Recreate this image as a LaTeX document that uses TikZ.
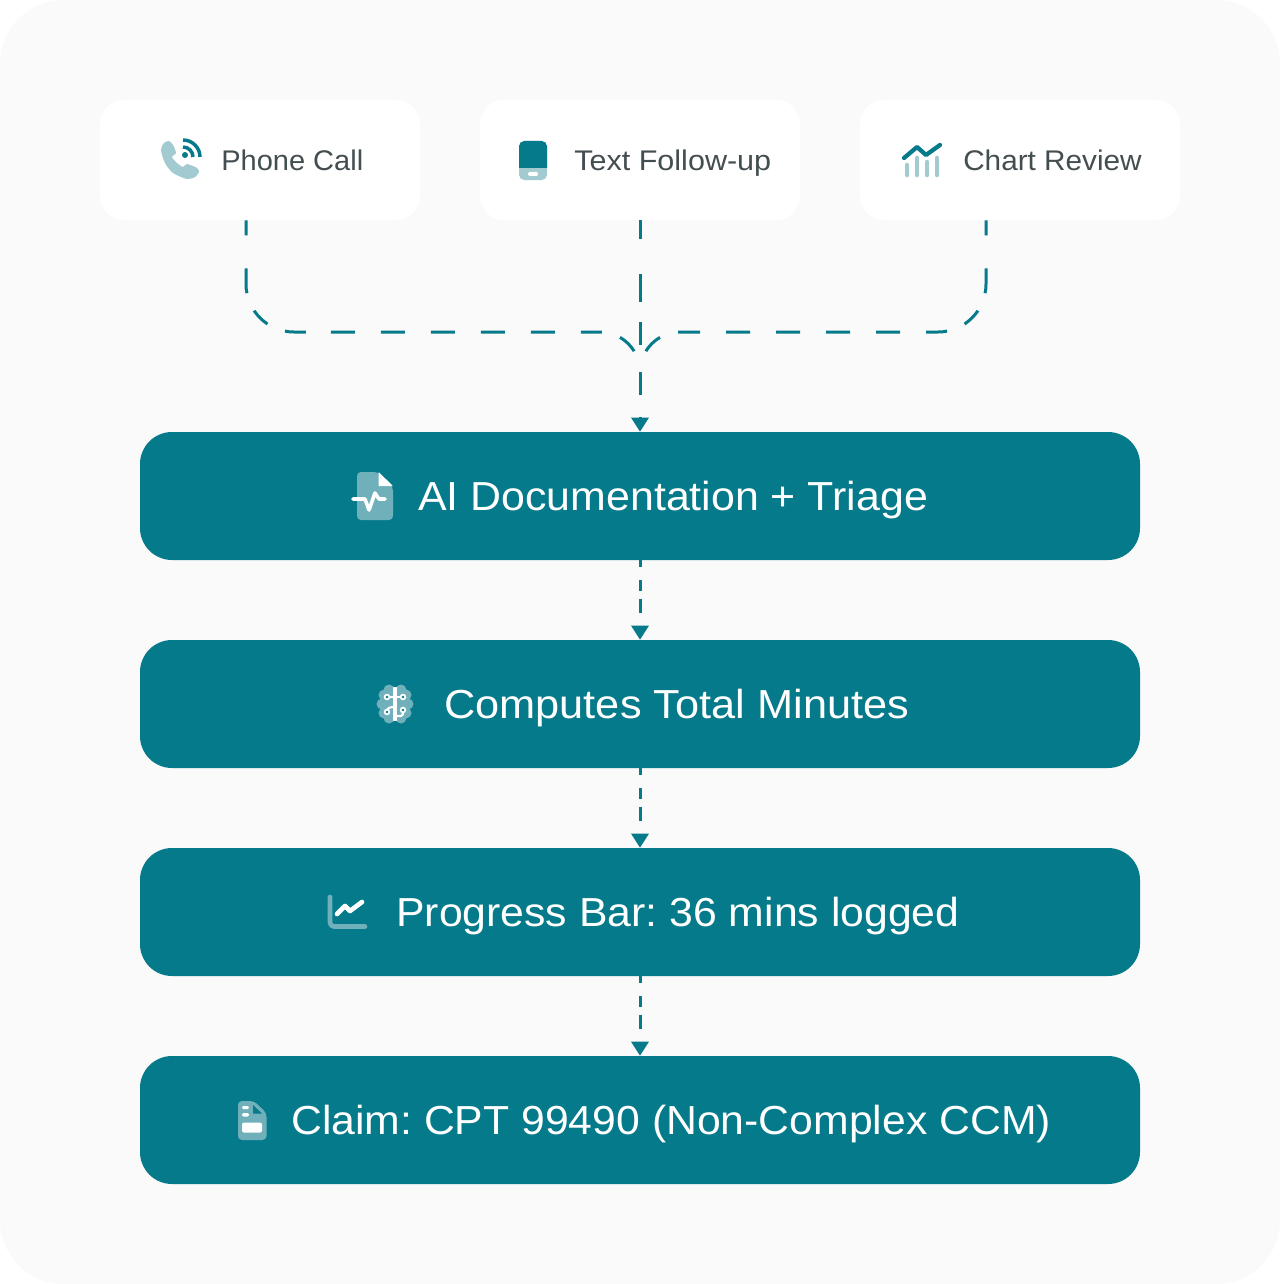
\documentclass[tikz,border=0pt]{standalone}
\usepackage{fontspec}
\setmainfont{Liberation Sans}
\usetikzlibrary{arrows.meta,calc}
\definecolor{teal}{HTML}{057A8B}
\definecolor{lteal}{HTML}{A2CAD1}
\definecolor{mteal}{HTML}{6FB0BB}
\definecolor{pagebg}{HTML}{FAFAFA}
\definecolor{inktxt}{HTML}{444E50}
\tikzset{
  cardbox/.style={fill=white,rounded corners=18pt,minimum width=240pt,minimum height=90pt,inner sep=0pt},
  mainbox/.style={fill=teal,rounded corners=24pt,minimum width=750pt,minimum height=96pt,inner sep=0pt},
  cardtxt/.style={inner sep=0pt,anchor=base west,text=inktxt,font=\fontsize{21.3pt}{24pt}\selectfont\frenchspacing},
  maintxt/.style={inner sep=0pt,anchor=base west,text=white,font=\fontsize{30.4pt}{36pt}\selectfont\frenchspacing},
  link/.style={draw=teal,line width=2.25pt},
  bigtip/.style={-{Triangle[length=10.5pt,width=12.75pt]}},
  leftdash/.style={dash pattern=on 11.25pt off 24.75pt on 18.75pt off 14.25pt on 14.25pt off 14.25pt on 15.75pt off 18.75pt
     on 18pt off 19.5pt on 18pt off 19.5pt on 18pt off 19.5pt on 18pt off 19.5pt on 18pt off 19.5pt
     on 15.75pt off 14.25pt on 15pt off 90pt},
  rightdash/.style={dash pattern=on 11.25pt off 24.75pt on 18.75pt off 14.25pt on 14.25pt off 14.25pt on 15.75pt off 19.5pt
     on 18pt off 19.5pt on 18pt off 19.5pt on 18pt off 19.5pt on 18pt off 19.5pt
     on 16.5pt off 14.25pt on 15pt off 90pt},
  centredash/.style={dash pattern=on 14.25pt off 26.25pt on 21pt off 15pt on 17.25pt off 20.25pt on 17.25pt off 16.5pt},
  shortdash/.style={dash pattern=on 5.25pt off 9.75pt on 8.25pt off 6pt on 10.5pt off 10pt},
}
\newcommand{\softshadow}[6]{%
  \foreach \s in {1,...,#6}{
    \fill[black,fill opacity=0.0016,rounded corners=#5] (#1-\s,#2-\s+6) rectangle (#3+\s,#4+\s+6);
  }
}
\begin{document}
\begin{tikzpicture}[x=0.75pt,y=-0.75pt]
\useasboundingbox (0,0) rectangle (1280,1284);
\fill[white] (0,0) rectangle (1280,1284);
\fill[pagebg,rounded corners=48pt] (0,0) rectangle (1280,1284);

% shadows
\softshadow{100}{100}{420}{220}{18pt}{14}
\softshadow{480}{100}{800}{220}{18pt}{14}
\softshadow{860}{100}{1180}{220}{18pt}{14}
\softshadow{140}{432}{1140}{560}{24pt}{14}
\softshadow{140}{640}{1140}{768}{24pt}{14}
\softshadow{140}{848}{1140}{976}{24pt}{14}
\softshadow{140}{1056}{1140}{1184}{24pt}{14}

% boxes
\node[cardbox] (phone) at (260,160) {};
\node[cardbox] (text) at (640,160) {};
\node[cardbox] (chart) at (1020,160) {};
\node[mainbox] (ai) at (640,496) {};
\node[mainbox] (comp) at (640,704) {};
\node[mainbox] (prog) at (640,912) {};
\node[mainbox] (claim) at (640,1120) {};

% connectors
\coordinate (merge) at (640,372);
\coordinate (ls) at ($(phone.south)+(-14,0)$);
\coordinate (rs) at ($(chart.south)+(-34,0)$);
\coordinate (l1) at (246,284);
\coordinate (l2) at (294,332);
\coordinate (l3) at (600,332);
\coordinate (r1) at (986,284);
\coordinate (r2) at (938,332);
\coordinate (r3) at (680,332);
\draw[link,leftdash] (ls) -- (l1)
  .. controls (246,310.5) and (267.5,332) .. (l2) -- (l3)
  .. controls (622,332) and (640,350) .. (merge);
\draw[link,rightdash] (rs) -- (r1)
  .. controls (986,310.5) and (964.5,332) .. (r2) -- (r3)
  .. controls (658,332) and (640,350) .. (merge);
\draw[link,centredash,bigtip] (text.south) -- (ai.north);
\draw[link,shortdash,bigtip] (ai.south) -- (comp.north);
\draw[link,shortdash,bigtip] (comp.south) -- (prog.north);
\draw[link,shortdash,bigtip] (prog.south) -- (claim.north);

% phone icon
\fill[lteal] plot[smooth cycle,tension=0.45] coordinates {(164,143) (169,141) (173,145) (176,153) (172,157) (177,163) (183,167) (187,164) (197,168) (199,172) (195,177) (187,179) (173,173) (165,163) (161,150)};
\fill[teal] (185,155) circle (3);
\draw[teal,line width=2.6pt] (183,147) arc (-90:0:10);
\draw[teal,line width=2.6pt] (183,140) arc (-90:0:17);
\node[cardtxt] (t1) at (221,171) {\scalebox{1.022}[1]{Phone Call}};

% mobile icon
\fill[lteal,rounded corners=4pt] (519,141) rectangle (547,180);
\begin{scope}
\clip (519,141) rectangle (547,168);
\fill[teal,rounded corners=4pt] (519,141) rectangle (547,180);
\end{scope}
\fill[white,rounded corners=1pt] (528,172) rectangle (538,176);
\node[cardtxt] (t2) at (574,171) {\scalebox{1.076}[1]{Text Follow-up}};

% chart icon
\foreach \x/\y in {907/165,917/158,927/162,937/158}{
  \draw[lteal,line width=3.4pt,line cap=round] (\x,\y) -- (\x,175);
}
\draw[teal,line width=3.2pt,line cap=round,line join=round] (904,158) -- (917,147) -- (926,155) -- (940,145);
\node[cardtxt] (t3) at (963,171) {\scalebox{1.047}[1]{Chart Review}};

% AI doc icon
\fill[mteal,rounded corners=3pt] (357,472) -- (378,472) -- (393,487) -- (393,520) -- (357,520) -- cycle;
\fill[white,rounded corners=0.5pt] (378.5,472) -- (393,486) -- (378.5,486) -- cycle;
\draw[white,line width=2.7pt,line cap=round,line join=round] (353,499) -- (365,499) -- (369,510) -- (375,493) -- (379,499) -- (385,499);
\node[maintxt] (t4) at (418,510) {\scalebox{1.058}[1]{AI Documentation + Triage}};

% brain icon
\fill[mteal] (395,704) ellipse (15 and 16);
\foreach \a/\b in {384/695,384/713,406/695,406/713,389/690,401/690,389/718,401/718,382/704,408/704}{
  \fill[mteal] (\a,\b) circle (5.5);
}
\draw[white,line width=2.6pt] (395,687) -- (395,721);
\draw[white,line width=1.6pt] (387,697) -- (403,697);
\draw[white,line width=1.6pt] (387,712) .. controls (387,708) and (389,707) .. (395,707);
\draw[white,line width=1.6pt] (396,716) -- (401,716) .. controls (403,716) and (403,714) .. (403,710);
\fill[white] (387,697) circle (3.3) (403,697) circle (3.3) (387,712) circle (3.3) (403,710) circle (3.3);
\fill[teal] (387,697) circle (1.3) (403,697) circle (1.3) (387,712) circle (1.3) (403,710) circle (1.3);
\node[maintxt] (t5) at (444,718) {\scalebox{1.069}[1]{Computes Total Minutes}};

% progress icon
\draw[mteal,line width=3.5pt,line cap=round,line join=round,rounded corners=3pt] (330,897) -- (330,926.5) -- (365,926.5);
\draw[white,line width=3.5pt,line cap=round,line join=round] (337,914) -- (345,906) -- (350,911) -- (362,902);
\node[maintxt] (t6) at (396,926) {\scalebox{1.055}[1]{Progress Bar: 36 mins logged}};

% claim icon
\fill[mteal,rounded corners=3pt] (238,1101) -- (254,1101) -- (266.5,1113) -- (266.5,1140) -- (238,1140) -- cycle;
\fill[teal] (253,1105) -- (262,1113.5) -- (253,1113.5) -- cycle;
\fill[white,rounded corners=1pt] (242,1106) rectangle (249,1109);
\fill[white,rounded corners=1pt] (242,1113) rectangle (249,1116.5);
\fill[white,rounded corners=1.5pt] (242,1122.5) rectangle (262,1132.5);
\node[maintxt] (t7) at (291,1134) {\scalebox{1.054}[1]{Claim: CPT 99490 (Non-Complex CCM)}};
\end{tikzpicture}
\end{document}
